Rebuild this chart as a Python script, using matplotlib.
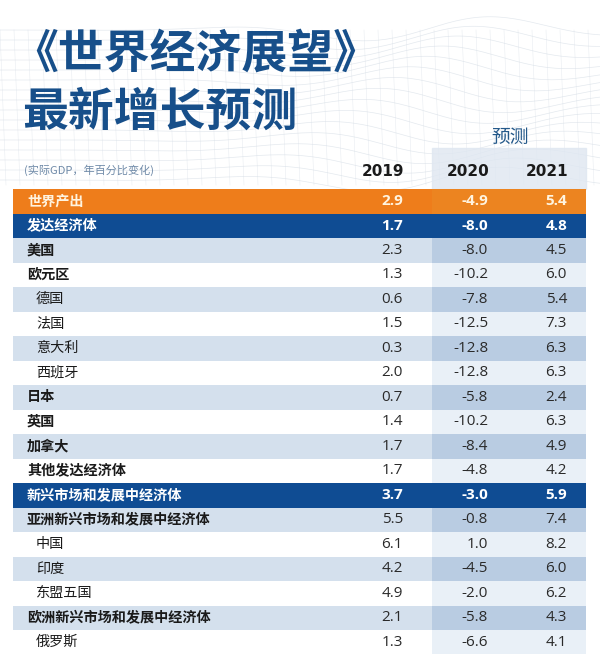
import numpy as np
import matplotlib.pyplot as plt

plt.rcParams['font.family'] = ['Noto Sans CJK SC', 'DejaVu Sans']

# 表格数据
labels = ['世界产出', '发达经济体', '美国', '欧元区', '德国', '法国', '意大利', '西班牙',
          '日本', '英国', '加拿大', '其他发达经济体', '新兴市场和发展中经济体',
          '亚洲新兴市场和发展中经济体', '中国', '印度', '东盟五国',
          '欧洲新兴市场和发展中经济体', '俄罗斯']
v2019 = [2.9, 1.7, 2.3, 1.3, 0.6, 1.5, 0.3, 2.0, 0.7, 1.4, 1.7, 1.7, 3.7, 5.5, 6.1, 4.2, 4.9, 2.1, 1.3]
v2020 = [-4.9, -8.0, -8.0, -10.2, -7.8, -12.5, -12.8, -12.8, -5.8, -10.2, -8.4, -4.8, -3.0,
         -0.8, 1.0, -4.5, -2.0, -5.8, -6.6]
v2021 = [5.4, 4.8, 4.5, 6.0, 5.4, 7.3, 6.3, 6.3, 2.4, 6.3, 4.9, 4.2, 5.9, 7.4, 8.2, 6.0, 6.2, 4.3, 4.1]
# 行类型: o = 橙色总计, b = 蓝色分组, m = 主项, s = 子项
kinds = ['o', 'b', 'm', 'm', 's', 's', 's', 's', 'm', 'm', 'm', 'm', 'b',
         'm', 's', 's', 's', 'm', 's']
years = ['2019', '2020', '2021']

fig = plt.figure(figsize=(6, 6.54), dpi=100)
ax = fig.add_axes([0, 0, 1, 1])
ax.set_xlim(0, 600)
ax.set_ylim(654, 0)
ax.axis('off')

# 背景网格纹理
xs = np.linspace(0, 600, 150)
for k in range(16):
    base = 30 + k * 10
    ys = base + 14 * np.sin(xs / 45 + k * 0.4) * np.exp(-((xs - 450) / 180) ** 2)
    ax.plot(xs, ys, color='#c9d3de', lw=0.5, alpha=0.5, zorder=0)
for xv in np.arange(0, 600, 14):
    ax.plot([xv, xv + 6], [30, 185], color='#d3dbe4', lw=0.4, alpha=0.5, zorder=0)

top = 189
rh = 24.5
x0, x1 = 13, 586
fx0 = 432
n = len(labels)
centers = top + rh * (np.arange(n) + 0.5)

# 预测列底色
ax.add_patch(plt.Rectangle((fx0, 148), x1 - fx0, top - 148, color='#dfe7f1', alpha=0.8, zorder=1))

for i, k in enumerate(kinds):
    if k == 'o':
        c, cf = '#ee7d1b', '#ec8420'
    elif k == 'b':
        c, cf = '#0f4c93', '#0f4c93'
    else:
        after = max(j for j in range(i) if kinds[j] in 'ob')
        if (i - after) % 2 == 1:
            c, cf = '#d4e0ed', '#b9cce2'
        else:
            c, cf = '#ffffff', '#e9f0f7'
    ax.barh(centers[i], fx0 - x0, left=x0, height=rh, color=c, zorder=2)
    ax.barh(centers[i], x1 - fx0, left=fx0, height=rh, color=cf, zorder=2)

# 文字
xnum = [403, 488, 567]
for i, lab in enumerate(labels):
    k = kinds[i]
    y = centers[i]
    if k in 'ob':
        col = '#fff4e0' if k == 'o' else 'white'
        ax.text(27, y, lab, color=col, fontsize=10.2, fontweight='bold', va='center', zorder=3)
        for xx, vals in zip(xnum, [v2019, v2020, v2021]):
            ax.text(xx, y, f'{vals[i]:.1f}', color=col, fontsize=11, fontweight='bold',
                    ha='right', va='center', family='Open Sans', zorder=3)
    else:
        xl = 27 if k == 'm' else 36
        fw = 'bold' if k == 'm' else 'normal'
        ax.text(xl, y, lab, color='#1a1a1a', fontsize=10.2, fontweight=fw, va='center', zorder=3)
        for xx, vals in zip(xnum, [v2019, v2020, v2021]):
            ax.text(xx, y, f'{vals[i]:.1f}', color='#2a2a2a', fontsize=11, ha='right',
                    va='center', family='Open Sans', zorder=3)

# 表头
for xx, yr in zip(xnum, years):
    ax.text(xx + 1, 171, yr, fontsize=11, fontweight='bold', color='#1a1a1a',
            ha='right', va='center', family='DejaVu Sans', zorder=3)
ax.text(510, 137, '预测', fontsize=13.5, color='#24598a', ha='center', va='center', zorder=3)
ax.text(24, 170, '(实际GDP，年百分比变化)', fontsize=8, color='#6f8aa8', va='center', zorder=3)

# 标题
ax.text(12, 55, '《世界经济展望》', fontsize=33, fontweight='bold', color='#174f8a',
        va='center', zorder=3)
ax.text(22, 113, '最新增长预测', fontsize=33, fontweight='bold', color='#174f8a',
        va='center', zorder=3)

fig.savefig('out.png', dpi=100, facecolor='white')
